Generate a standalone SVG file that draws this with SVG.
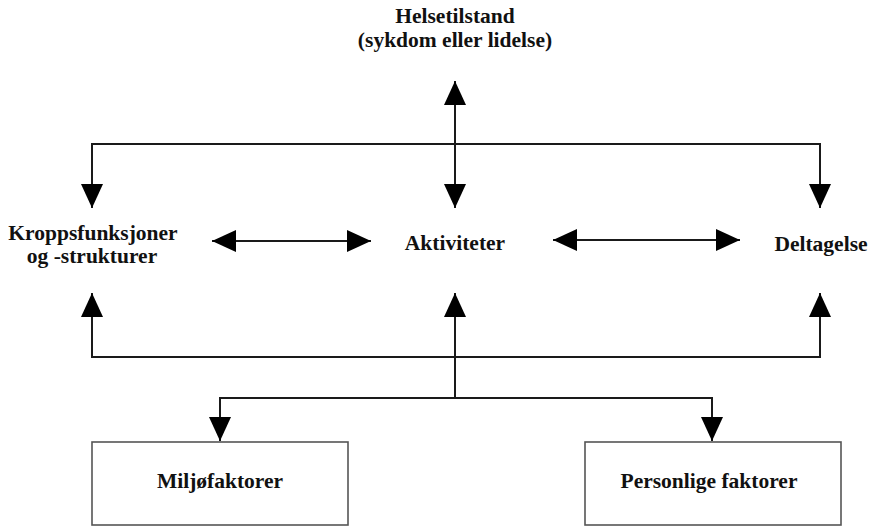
<svg xmlns="http://www.w3.org/2000/svg" width="881" height="527" viewBox="0 0 881 527">
<style>
  .lbl { font-family: "Liberation Serif", "Times New Roman", serif; font-weight: bold; font-size: 21.5px; fill: #111; text-anchor: middle; }
  .conn { fill: none; stroke: #1a1a1a; stroke-width: 2; }
  .box { fill: #fff; stroke: #555; stroke-width: 1.6; }
</style>
<defs>
  <marker id="ah" markerUnits="userSpaceOnUse" markerWidth="24" markerHeight="22" refX="24" refY="11" orient="auto-start-reverse">
    <path d="M0,0 L24,11 L0,22 z" fill="#000"/>
  </marker>
</defs>
<rect width="881" height="527" fill="#fff"/>
<g id="connectors">
  <path class="conn" d="M455,81 V208" marker-start="url(#ah)" marker-end="url(#ah)"/>
  <path class="conn" d="M92,208 V144 H820 V208" marker-start="url(#ah)" marker-end="url(#ah)"/>
  <path class="conn" d="M212,241 H371" marker-start="url(#ah)" marker-end="url(#ah)"/>
  <path class="conn" d="M553,240 H740" marker-start="url(#ah)" marker-end="url(#ah)"/>
  <path class="conn" d="M92,293 V357 H820 V293" marker-start="url(#ah)" marker-end="url(#ah)"/>
  <path class="conn" d="M455,398 V293" marker-end="url(#ah)"/>
  <path class="conn" d="M220,441 V398 H712 V441" marker-start="url(#ah)" marker-end="url(#ah)"/>
</g>
<g id="helsetilstand">
  <text class="lbl" x="455" y="23">Helsetilstand</text>
  <text class="lbl" x="455" y="47">(sykdom eller lidelse)</text>
</g>
<g id="kroppsfunksjoner">
  <text class="lbl" x="93" y="240">Kroppsfunksjoner</text>
  <text class="lbl" x="92" y="263">og -strukturer</text>
</g>
<g id="aktiviteter">
  <text class="lbl" x="455" y="250">Aktiviteter</text>
</g>
<g id="deltagelse">
  <text class="lbl" x="821" y="251">Deltagelse</text>
</g>
<g id="miljofaktorer">
  <rect class="box" x="92" y="442" width="256" height="83"/>
  <text class="lbl" x="220" y="488">Miljøfaktorer</text>
</g>
<g id="personlige">
  <rect class="box" x="585" y="442" width="256" height="83"/>
  <text class="lbl" x="709" y="488">Personlige faktorer</text>
</g>
</svg>
